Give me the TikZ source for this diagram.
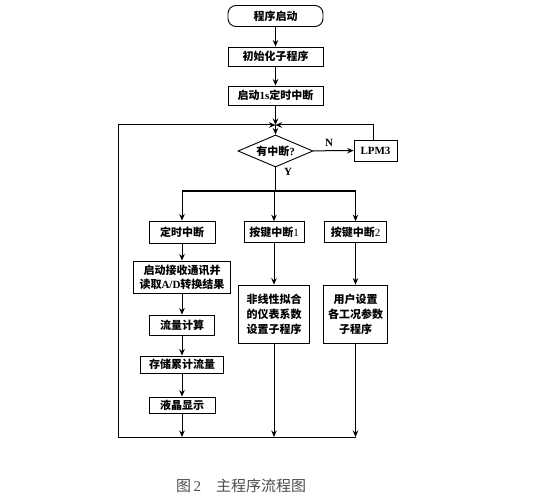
\documentclass[tikz,border=0pt]{standalone}
\usepackage{fontspec}
\setmainfont{Liberation Serif}
\newfontfamily\cjk{Noto Sans CJK SC}
\usetikzlibrary{arrows.meta,shapes.geometric}
\newcommand{\lat}[1]{{\rmfamily\bfseries #1}}
\begin{document}
\begin{tikzpicture}[x=1pt,y=-1pt,
  every node/.style={font=\cjk\bfseries\fontsize{11}{13}\selectfont, inner sep=0pt, align=center},
  box/.style={draw, line width=0.9pt, rectangle},
  arr/.style={-{Stealth[length=6.5pt,width=5.5pt]}},
  ln/.style={line width=1pt}]
\useasboundingbox (0,0) rectangle (533,500);
% nodes
\node[box, rounded corners=8pt, minimum width=95pt, minimum height=21pt] (start) at (275.5,16) {程序启动};
\node[box, minimum width=95pt, minimum height=19pt] (init) at (275.5,56.5) {初始化子程序};
\node[box, minimum width=95pt, minimum height=19pt] (t1s) at (275.5,95.5) {启动\lat{1s}定时中断};
\coordinate (J) at (275.5,125);
\node[draw, line width=0.9pt, diamond, aspect=2.35, minimum width=75pt, minimum height=32pt] (D) at (275.5,151) {有中断\lat{?}};
\node[box, line width=0.7pt, minimum width=43pt, minimum height=21pt] (lpm) at (375.5,150.5) {\lat{LPM3}};
\node[box, minimum width=66pt, minimum height=22pt] (timer) at (182,232) {定时中断};
\node[box, line width=0.7pt, minimum width=60pt, minimum height=21pt] (key1) at (274,232) {按键中断\lat{\mdseries 1}};
\node[box, line width=0.7pt, minimum width=62pt, minimum height=21pt] (key2) at (355.5,232) {按键中断\lat{\mdseries 2}};
\node[box, minimum width=97pt, minimum height=32pt, font=\cjk\bfseries\fontsize{11}{14}\selectfont] (recv) at (182,277) {启动接收通讯并\\读取\lat{A/D}转换结果};
\node[box, minimum width=65pt, minimum height=20pt] (flow) at (182,325) {流量计算};
\node[box, line width=0.7pt, minimum width=71pt, minimum height=58pt, font=\cjk\bfseries\fontsize{11}{15}\selectfont] (nonlin) at (274,314) {非线性拟合\\的仪表系数\\设置子程序};
\node[box, line width=0.7pt, minimum width=64pt, minimum height=58pt, font=\cjk\bfseries\fontsize{11}{15}\selectfont] (user) at (355.5,314) {用户设置\\各工况参数\\子程序};
\node[box, minimum width=83pt, minimum height=17pt] (store) at (182,364.5) {存储累计流量};
\node[box, minimum width=66pt, minimum height=16pt] (lcd) at (182,405) {液晶显示};
\coordinate (BR) at (275.5,191);
\coordinate (BL) at (118,437);
\coordinate (TL) at (118,125);
\coordinate (TR) at (373,125);
% labels
\node (N) at (329,143) {\lat{N}};
\node (Y) at (288,172) {\lat{Y}};
% connectors
\draw[ln, arr] (start) -- (init);
\draw[ln, arr] (init) -- (t1s);
\draw[ln, arr] (t1s) -- (J);
\draw[ln, arr] (J) -- (D);
\draw[ln, arr] (D) -- (lpm);
\draw[ln, arr] (lpm.north -| TR) -- (TR) -- (J);
\draw[ln] (D.south) -- (BR);
\draw[ln, arr] (BR) -| (timer);
\draw[ln, arr] (BR) -| (key2);
\draw[ln, arr] (key1 |- BR) -- (key1);
\draw[ln, arr] (timer) -- (recv);
\draw[ln, arr] (recv) -- (flow);
\draw[ln, arr] (flow) -- (store);
\draw[ln, arr] (store) -- (lcd);
\draw[ln, arr] (key1) -- (nonlin);
\draw[ln, arr] (key2) -- (user);
\draw[ln, arr] (lcd) -- (lcd.south |- BL);
\draw[ln, arr] (nonlin) -- (nonlin.south |- BL);
\draw[ln, arr] (user) -- (user.south |- BL);
\draw[ln, arr] (user.south |- BL) -- (BL) -- (TL) -- (J);
% caption
\node[font=\cjk\fontsize{15}{17}\selectfont, text=black!70] (cap) at (241,486) {图\,\lat{\mdseries 2}\quad 主程序流程图};
\end{tikzpicture}
\end{document}
